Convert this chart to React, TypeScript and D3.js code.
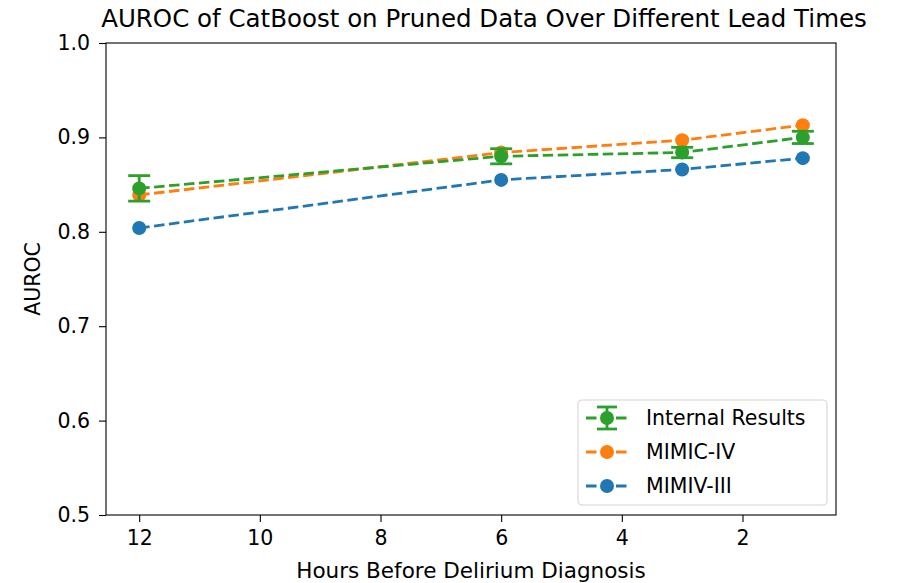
import { useEffect, useRef } from 'react'
import * as d3 from 'd3'

const hours = [12, 6, 3, 1]
const internalVals = [0.846, 0.88, 0.884, 0.9]
const internalErr = [0.0135, 0.008, 0.0055, 0.0065]
const mimic4Vals = [0.839, 0.884, 0.897, 0.913]
const mimic3Vals = [0.804, 0.855, 0.866, 0.878]
const xTicks = [12, 10, 8, 6, 4, 2]
const yTicks = [0.5, 0.6, 0.7, 0.8, 0.9, 1.0]

const seriesList = [
  { name: 'MIMIV-III', values: mimic3Vals, color: '#1f77b4' },
  { name: 'MIMIC-IV', values: mimic4Vals, color: '#ff7f0e' },
  { name: 'Internal Results', values: internalVals, color: '#2ca02c', err: internalErr }
]
const legendOrder = ['Internal Results', 'MIMIC-IV', 'MIMIV-III']

export default function App() {
  const svgRef = useRef<SVGSVGElement>(null)

  useEffect(() => {
    if (!svgRef.current) return
    const svg = d3.select(svgRef.current)
    svg.selectAll('*').remove()

    const width = 905
    const height = 583
    const margin = { top: 43, right: 69, bottom: 68, left: 106 }
    const font = 'DejaVu Sans, sans-serif'
    const fs = '20.5px'

    const x = d3.scaleLinear().domain([12.55, 0.45]).range([margin.left, width - margin.right])
    const y = d3.scaleLinear().domain([0.5, 1.0]).range([height - margin.bottom, margin.top])

    // title
    svg.append('text')
      .attr('x', 484)
      .attr('y', 27)
      .attr('text-anchor', 'middle')
      .style('font-family', font)
      .style('font-size', '24.5px')
      .style('fill', '#000')
      .text('AUROC of CatBoost on Pruned Data Over Different Lead Times')

    const line = d3.line<number>()
      .x((_, i) => x(hours[i]))
      .y(d => y(d))

    seriesList.forEach(s => {
      const g = svg.append('g')
      g.append('path')
        .datum(s.values)
        .attr('fill', 'none')
        .attr('stroke', s.color)
        .attr('stroke-width', 2.8)
        .attr('stroke-dasharray', '10.5,4.5')
        .attr('d', line)

      if (s.err) {
        s.values.forEach((v, i) => {
          const cx = x(hours[i])
          const e = s.err![i]
          g.append('line')
            .attr('x1', cx).attr('x2', cx)
            .attr('y1', y(v - e)).attr('y2', y(v + e))
            .attr('stroke', s.color).attr('stroke-width', 2.8)
          ;[v - e, v + e].forEach(c => {
            g.append('line')
              .attr('x1', cx - 11).attr('x2', cx + 11)
              .attr('y1', y(c)).attr('y2', y(c))
              .attr('stroke', s.color).attr('stroke-width', 2.8)
          })
        })
      }

      g.selectAll('circle')
        .data(s.values)
        .enter()
        .append('circle')
        .attr('cx', (_, i) => x(hours[i]))
        .attr('cy', d => y(d))
        .attr('r', 7)
        .attr('fill', s.color)
    })

    // axes frame
    svg.append('rect')
      .attr('x', margin.left)
      .attr('y', margin.top)
      .attr('width', width - margin.left - margin.right)
      .attr('height', height - margin.top - margin.bottom)
      .attr('fill', 'none')
      .attr('stroke', '#000')
      .attr('stroke-width', 1.1)

    const xAxis = svg.append('g')
      .attr('transform', `translate(0,${height - margin.bottom})`)
      .call(d3.axisBottom(x).tickValues(xTicks).tickFormat(d3.format('d')).tickSizeOuter(0).tickSize(7).tickPadding(8))
    const yAxis = svg.append('g')
      .attr('transform', `translate(${margin.left},0)`)
      .call(d3.axisLeft(y).tickValues(yTicks).tickFormat(d3.format('.1f')).tickSizeOuter(0).tickSize(7).tickPadding(9))

    ;[xAxis, yAxis].forEach(a => {
      a.select('.domain').remove()
      a.selectAll('.tick line').attr('stroke', '#000').attr('stroke-width', 1.1)
      a.selectAll('text')
        .style('font-family', font)
        .style('font-size', fs)
        .style('fill', '#000')
    })

    svg.append('text')
      .attr('x', (margin.left + width - margin.right) / 2)
      .attr('y', 578)
      .attr('text-anchor', 'middle')
      .style('font-family', font)
      .style('font-size', '21.5px')
      .text('Hours Before Delirium Diagnosis')

    svg.append('text')
      .attr('transform', `translate(40,${(margin.top + height - margin.bottom) / 2}) rotate(-90)`)
      .attr('text-anchor', 'middle')
      .style('font-family', font)
      .style('font-size', fs)
      .text('AUROC')

    // legend
    const lg = svg.append('g').attr('transform', 'translate(578,400)')
    lg.append('rect')
      .attr('width', 249)
      .attr('height', 105)
      .attr('rx', 4)
      .attr('fill', 'rgba(255,255,255,0.8)')
      .attr('stroke', '#d6d6d6')
      .attr('stroke-width', 1.1)

    legendOrder.forEach((name, i) => {
      const s = seriesList.find(d => d.name === name)!
      const cy = 18 + i * 34
      lg.append('line')
        .attr('x1', 8).attr('x2', 50)
        .attr('y1', cy).attr('y2', cy)
        .attr('stroke', s.color)
        .attr('stroke-width', 2.8)
        .attr('stroke-dasharray', '10.5,4.5')
      if (s.err) {
        lg.append('line').attr('x1', 29).attr('x2', 29).attr('y1', cy - 11).attr('y2', cy + 11)
          .attr('stroke', s.color).attr('stroke-width', 2.8)
        ;[cy - 11, cy + 11].forEach(c => {
          lg.append('line').attr('x1', 19).attr('x2', 39).attr('y1', c).attr('y2', c)
            .attr('stroke', s.color).attr('stroke-width', 2.8)
        })
      }
      lg.append('circle').attr('cx', 29).attr('cy', cy).attr('r', 7).attr('fill', s.color)
      lg.append('text')
        .attr('x', 68)
        .attr('y', cy + 7)
        .style('font-family', font)
        .style('font-size', fs)
        .style('fill', '#000')
        .text(name)
    })
  }, [])

  return (
    <div style={{ position: 'absolute', left: 0, top: 0 }}>
      <svg ref={svgRef} width={905} height={583} style={{ display: 'block', background: '#fff' }} />
    </div>
  )
}
